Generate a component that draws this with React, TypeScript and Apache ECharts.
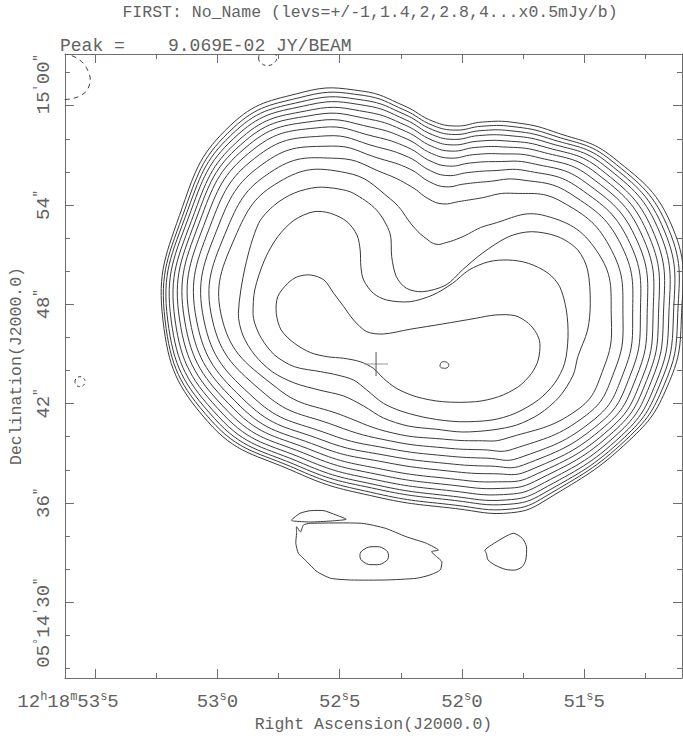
import React, { useEffect, useRef } from "react";
import * as echarts from "echarts";

// Axis extents: RA in seconds of time after 12h18m, Dec in arcsec after +05d14'
const RA_MIN = 51.1;
const RA_MAX = 53.6233;
const DEC_MIN = 25.42;
const DEC_MAX = 63.124;

const RA_MAJOR_TICKS = [53.5, 53.0, 52.5, 52.0, 51.5];
const RA_MINOR_TICKS = [53.25, 52.75, 52.25, 51.75, 51.25];
const DEC_MAJOR_TICKS = [30, 36, 42, 48, 54, 60];
const DEC_MINOR_TICKS = [26, 28, 32, 34, 38, 40, 44, 46, 50, 52, 56, 58, 62];

const TITLE_TEXT = "FIRST: No_Name (levs=+/-1,1.4,2,2.8,4...x0.5mJy/b)";
const PEAK_LABEL = "Peak =";
const PEAK_VALUE = "9.069E-02 JY/BEAM";
const X_AXIS_NAME = "Right Ascension(J2000.0)";
const Y_AXIS_NAME = "Declination(J2000.0)";

const DEC_DEGREES = 5.245;
const SOURCE_POSITION = [52.351, 44.393];

// Outer contour levels (1..12) read as radii (arcsec) along rays from a centre
const RING_CENTER = [52.16, 47.052];
const RAY_ANGLES = [0, 20, 40, 55, 65, 73, 80, 87, 95, 105, 118, 135, 155, 180, 205, 230, 255, 280, 295, 305, 330, 345];
const LEVEL_01 = [15.79, 16.25, 15.23, 13.9, 13.17, 12.51, 11.9, 12.02, 12.99, 14.32, 15.59, 16.62, 16.19, 15.87, 14.5, 12.02, 11.06, 11.57, 12.85, 13.23, 14.56, 15.47];
const LEVEL_02 = [15.56, 15.99, 15.01, 13.66, 12.9, 12.24, 11.65, 11.77, 12.73, 14.05, 15.31, 16.39, 16.0, 15.74, 14.29, 11.82, 10.86, 11.36, 12.61, 13.03, 14.39, 15.25];
const LEVEL_03 = [15.3, 15.71, 14.77, 13.4, 12.62, 11.96, 11.38, 11.51, 12.46, 13.74, 15.03, 16.16, 15.82, 15.58, 14.05, 11.6, 10.59, 11.07, 12.29, 12.81, 14.21, 15.0];
const LEVEL_04 = [15.02, 15.41, 14.5, 13.12, 12.3, 11.65, 11.08, 11.21, 12.15, 13.41, 14.73, 15.9, 15.62, 15.37, 13.78, 11.34, 10.35, 10.82, 12.0, 12.55, 14.0, 14.74];
const LEVEL_05 = [14.69, 15.06, 14.17, 12.8, 11.94, 11.29, 10.74, 10.88, 11.8, 13.0, 14.39, 15.61, 15.38, 15.13, 13.46, 11.04, 10.05, 10.49, 11.64, 12.25, 13.75, 14.44];
const LEVEL_06 = [14.39, 14.72, 13.82, 12.44, 11.54, 10.9, 10.36, 10.51, 11.42, 12.56, 14.04, 15.32, 15.15, 14.85, 13.11, 10.7, 9.71, 10.13, 11.23, 11.91, 13.47, 14.15];
const LEVEL_07 = [14.06, 14.35, 13.41, 12.03, 11.08, 10.44, 9.93, 10.08, 10.97, 12.05, 13.64, 14.99, 14.89, 14.55, 12.73, 10.34, 9.35, 9.74, 10.79, 11.55, 13.18, 13.84];
const LEVEL_08 = [13.7, 13.94, 12.95, 11.56, 10.56, 9.92, 9.44, 9.6, 10.46, 11.48, 13.18, 14.6, 14.57, 14.22, 12.31, 9.94, 8.9, 9.27, 10.25, 11.15, 12.85, 13.49];
const LEVEL_09 = [13.29, 13.48, 12.43, 11.01, 9.95, 9.31, 8.86, 9.03, 9.87, 10.83, 12.6, 14.12, 14.19, 13.82, 11.84, 9.49, 8.48, 8.81, 9.74, 10.7, 12.48, 13.1];
const LEVEL_10 = [12.82, 12.95, 11.83, 10.35, 9.22, 8.59, 8.17, 8.35, 9.16, 10.09, 11.9, 13.53, 13.72, 13.37, 11.3, 8.98, 8.04, 8.34, 9.21, 10.19, 12.06, 12.66];
const LEVEL_11 = [12.23, 12.28, 11.1, 9.35, 8.11, 7.48, 7.12, 7.31, 8.09, 9.18, 11.06, 12.83, 13.16, 12.85, 10.61, 8.33, 7.57, 7.85, 8.65, 9.54, 11.52, 12.1];
const LEVEL_12 = [11.52, 11.48, 9.79, 7.01, 5.5, 4.89, 4.65, 4.89, 5.56, 7.55, 10.09, 12.02, 12.51, 12.24, 9.79, 7.55, 7.07, 7.31, 8.05, 8.76, 10.88, 11.42];

// Inner contour levels as [RA s, Dec arcsec]
const LEVEL_13 = [
  [52.914, 47.456], [52.886, 50.272], [52.831, 52.895], [52.766, 54.0], [52.685, 54.725], [52.591, 55.07],
  [52.503, 54.967], [52.443, 54.707], [52.349, 53.698], [52.294, 52.29], [52.287, 50.876], [52.268, 49.668],
  [52.227, 48.967], [52.16, 48.762], [52.065, 49.166], [51.998, 50.073], [51.917, 51.082], [51.809, 52.085],
  [51.715, 52.387], [51.607, 52.085], [51.526, 51.281], [51.486, 50.073], [51.475, 48.061], [51.486, 46.447],
  [51.526, 44.834], [51.545, 43.728], [51.602, 42.399], [51.683, 41.372], [51.776, 40.707], [51.877, 40.405],
  [51.998, 40.284], [52.103, 40.447], [52.22, 40.647], [52.321, 41.13], [52.402, 41.855], [52.483, 42.459],
  [52.584, 42.822], [52.685, 43.245], [52.774, 43.91], [52.847, 44.937], [52.896, 46.145],
];
const LEVEL_14 = [
  [52.854, 47.456], [52.847, 48.864], [52.807, 50.677], [52.753, 52.085], [52.685, 53.094], [52.605, 53.596],
  [52.537, 53.499], [52.47, 52.991], [52.429, 52.188], [52.416, 51.281], [52.413, 50.272], [52.402, 49.469],
  [52.362, 48.665], [52.308, 48.26], [52.213, 48.157], [52.119, 48.562], [52.038, 49.269], [51.971, 50.073],
  [51.89, 50.574], [51.809, 50.677], [51.728, 50.478], [51.647, 49.873], [51.6, 49.064], [51.573, 47.656],
  [51.566, 46.043], [51.58, 44.435], [51.621, 43.227], [51.688, 42.218], [51.782, 41.414], [51.877, 41.009],
  [52.011, 40.907], [52.133, 41.112], [52.241, 41.511], [52.321, 42.018], [52.389, 42.822], [52.443, 43.426],
  [52.51, 43.728], [52.577, 43.928], [52.685, 44.23], [52.766, 44.937], [52.82, 45.946], [52.847, 46.852],
];
const LEVEL_15 = [
  [52.759, 47.456], [52.753, 48.46], [52.712, 49.269], [52.672, 49.668], [52.618, 49.771], [52.564, 49.469],
  [52.524, 48.665], [52.483, 47.855], [52.443, 47.052], [52.389, 46.345], [52.321, 46.206], [52.213, 46.49],
  [52.079, 46.81], [51.944, 47.154], [51.863, 47.354], [51.782, 47.311], [51.728, 46.852], [51.695, 46.248],
  [51.681, 45.644], [51.688, 44.635], [51.715, 43.831], [51.769, 43.021], [51.85, 42.417], [51.944, 42.115],
  [52.079, 42.115], [52.187, 42.417], [52.268, 42.925], [52.321, 43.529], [52.362, 44.133], [52.416, 44.532],
  [52.483, 44.737], [52.551, 44.834], [52.618, 45.076], [52.685, 45.644], [52.739, 46.447],
];
const LEVEL_16 = [
  [52.089, 44.333], [52.083, 44.496], [52.071, 44.527], [52.058, 44.454],
  [52.054, 44.303], [52.061, 44.164], [52.075, 44.14], [52.087, 44.194],
];

// Faint southern components
const SOUTH_BLOB = [
  [52.676, 34.562], [52.66, 34.242], [52.648, 34.665], [52.62, 34.768], [52.41, 34.768], [52.313, 34.466],
  [52.228, 33.958], [52.145, 33.559], [52.096, 33.154], [52.124, 33.052], [52.103, 32.749], [52.082, 32.447],
  [52.089, 31.946], [52.131, 31.644], [52.186, 31.444], [52.313, 31.342], [52.452, 31.342], [52.536, 31.444],
  [52.592, 31.843], [52.634, 32.447], [52.655, 32.749], [52.669, 32.955], [52.679, 33.559], [52.676, 34.163],
];
const SOUTH_BLOB_CORE = [
  [52.417, 32.81], [52.4, 33.197], [52.359, 33.354], [52.317, 33.215],
  [52.3, 32.81], [52.317, 32.411], [52.359, 32.266], [52.4, 32.411],
];
const SOUTH_SLIVER = [
  [52.697, 34.967], [52.662, 35.372], [52.62, 35.529], [52.564, 35.529], [52.515, 35.269],
  [52.473, 35.009], [52.536, 34.907], [52.62, 34.846], [52.69, 34.907],
];
const SOUTH_EAST_BLOB = [
  [51.906, 33.154], [51.879, 33.456], [51.823, 33.958], [51.788, 34.163], [51.753, 33.861], [51.736, 33.354],
  [51.739, 32.55], [51.753, 32.145], [51.781, 31.946], [51.823, 31.988], [51.865, 32.248], [51.893, 32.55],
  [51.9, 32.955],
];

// Negative (dashed) contours
const NEG_CORNER = [
  [53.63, 63.2], [53.615, 63.124], [53.575, 62.882], [53.543, 62.46], [53.524, 61.916], [53.52, 61.553],
  [53.53, 61.009], [53.555, 60.647], [53.591, 60.435], [53.621, 60.375], [53.632, 60.36],
];
const NEG_TOP = [
  [52.831, 62.883], [52.821, 62.58], [52.795, 62.429], [52.768, 62.58],
  [52.758, 62.883], [52.768, 63.185], [52.795, 63.336], [52.821, 63.185],
];
const NEG_LEFT = [
  [53.582, 43.323], [53.576, 43.535], [53.562, 43.625], [53.547, 43.535],
  [53.541, 43.323], [53.547, 43.111], [53.562, 43.021], [53.576, 43.111],
];

const ARCSEC_PER_RA_SECOND = 15 * Math.cos((DEC_DEGREES * Math.PI) / 180);

function ringFromRadii(radii: number[]): number[][] {
  return RAY_ANGLES.map((deg, i) => {
    const t = (deg * Math.PI) / 180;
    return [
      RING_CENTER[0] - (radii[i] * Math.cos(t)) / ARCSEC_PER_RA_SECOND,
      RING_CENTER[1] + radii[i] * Math.sin(t),
    ];
  });
}

type Contour = { pts: number[][]; closed: boolean; smooth: number; dash?: number[] };

const RING_LEVELS = [LEVEL_01, LEVEL_02, LEVEL_03, LEVEL_04, LEVEL_05, LEVEL_06, LEVEL_07, LEVEL_08, LEVEL_09, LEVEL_10, LEVEL_11, LEVEL_12];

const CONTOURS: Contour[] = [
  ...RING_LEVELS.map((r) => ({ pts: ringFromRadii(r), closed: true, smooth: 0.45 })),
  { pts: LEVEL_13, closed: true, smooth: 0.3 },
  { pts: LEVEL_14, closed: true, smooth: 0.3 },
  { pts: LEVEL_15, closed: true, smooth: 0.3 },
  { pts: LEVEL_16, closed: true, smooth: 0.5 },
  { pts: SOUTH_BLOB, closed: true, smooth: 0.2 },
  { pts: SOUTH_BLOB_CORE, closed: true, smooth: 0.5 },
  { pts: SOUTH_SLIVER, closed: true, smooth: 0.2 },
  { pts: SOUTH_EAST_BLOB, closed: true, smooth: 0.25 },
  { pts: NEG_CORNER, closed: false, smooth: 0.4, dash: [5, 4] },
  { pts: NEG_TOP, closed: true, smooth: 0.5, dash: [4, 3] },
  { pts: NEG_LEFT, closed: true, smooth: 0.5, dash: [3, 3] },
];

const MONO = "'Liberation Mono', 'DejaVu Sans Mono', monospace";
const TEXT = "#626262";
const FRAME = "#6e6e6e";
const LINE = "#3a3a3a";

const pad2 = (v: number) => (v < 10 ? "0" + v : String(v));

function raLabel(v: number): string {
  const whole = Math.floor(v + 1e-6);
  const frac = Math.round((v - whole) * 10);
  const core = `{n|${whole}}{s|s}{n|${frac}}`;
  return Math.abs(v - RA_MAJOR_TICKS[0]) < 1e-6 ? `{n|12}{s|h}{n|18}{s|m}${core}{gap|}` : core;
}

function decLabel(v: number): string {
  if (v >= 60) return `{gapA|}{n|15}{s|'}{n|${pad2(Math.round(v - 60))}}{s|"}`;
  if (Math.abs(v - DEC_MAJOR_TICKS[0]) < 1e-6) return `{n|05}{s|°}{n|14}{s|'}{n|${pad2(v)}}{s|"}{gapB|}`;
  return `{n|${pad2(v)}}{s|"}`;
}

const frameLine = { show: true, onZero: false, lineStyle: { color: FRAME, width: 1 } };

function tickAxis(kind: "x" | "y", position: string, values: number[], length: number, extra: any = {}) {
  return {
    type: "value",
    position,
    min: kind === "x" ? RA_MIN : DEC_MIN,
    max: kind === "x" ? RA_MAX : DEC_MAX,
    inverse: kind === "x",
    splitLine: { show: false },
    axisLine: { show: false },
    axisLabel: { show: false },
    axisTick: { show: true, inside: true, length, customValues: values, lineStyle: { color: FRAME, width: 1 } },
    axisPointer: { show: false },
    silent: true,
    ...extra,
  };
}

const option: any = {
  animation: false,
  grid: { left: 58, top: 54, width: 624, height: 624, containLabel: false },
  graphic: [
    {
      type: "text",
      x: 370,
      y: 12.5,
      silent: true,
      style: {
        text: TITLE_TEXT, fill: TEXT, fontSize: 16.5, fontFamily: MONO,
        align: "center", verticalAlign: "middle", textAlign: "center", textVerticalAlign: "middle",
      },
    },
    {
      type: "text",
      x: 60,
      y: 45.5,
      silent: true,
      style: {
        text: PEAK_LABEL, fill: TEXT, fontSize: 18, fontFamily: MONO,
        align: "left", verticalAlign: "middle", textAlign: "left", textVerticalAlign: "middle",
      },
    },
    {
      type: "text",
      x: 168,
      y: 45.5,
      silent: true,
      style: {
        text: PEAK_VALUE, fill: TEXT, fontSize: 18, fontFamily: MONO,
        align: "left", verticalAlign: "middle", textAlign: "left", textVerticalAlign: "middle",
      },
    },
  ],
  xAxis: [
    tickAxis("x", "bottom", RA_MAJOR_TICKS, 9, {
      axisLine: frameLine,
      name: X_AXIS_NAME,
      nameLocation: "middle",
      nameGap: 37,
      nameTextStyle: { fontFamily: MONO, fontSize: 16.5, color: TEXT },
      axisLabel: {
        show: true,
        customValues: RA_MAJOR_TICKS,
        margin: 13,
        formatter: raLabel,
        rich: {
          n: { fontFamily: MONO, fontSize: 19, color: TEXT, lineHeight: 22 },
          s: { fontFamily: MONO, fontSize: 12, color: TEXT, lineHeight: 12, verticalAlign: "top" },
          gap: { width: 54, height: 2 },
        },
      },
    }),
    tickAxis("x", "bottom", RA_MINOR_TICKS, 5),
    tickAxis("x", "top", RA_MAJOR_TICKS, 9, { axisLine: frameLine }),
    tickAxis("x", "top", RA_MINOR_TICKS, 5),
  ],
  yAxis: [
    tickAxis("y", "left", DEC_MAJOR_TICKS, 9, {
      axisLine: frameLine,
      name: Y_AXIS_NAME,
      nameLocation: "middle",
      nameGap: 39,
      nameRotate: 90,
      nameTextStyle: { fontFamily: MONO, fontSize: 16.5, color: TEXT },
      axisLabel: {
        show: true,
        customValues: DEC_MAJOR_TICKS,
        rotate: 90,
        margin: 10,
        formatter: decLabel,
        rich: {
          n: { fontFamily: MONO, fontSize: 19, color: TEXT, lineHeight: 22 },
          s: { fontFamily: MONO, fontSize: 12, color: TEXT, lineHeight: 12, verticalAlign: "top" },
          gapA: { width: 43, height: 2 },
          gapB: { width: 41, height: 2 },
        },
      },
    }),
    tickAxis("y", "left", DEC_MINOR_TICKS, 5),
    tickAxis("y", "right", DEC_MAJOR_TICKS, 9, { axisLine: frameLine }),
    tickAxis("y", "right", DEC_MINOR_TICKS, 5),
  ],
  series: [
    {
      type: "custom",
      coordinateSystem: "cartesian2d",
      xAxisIndex: 0,
      yAxisIndex: 0,
      clip: true,
      silent: true,
      data: CONTOURS.map((c) => c.pts[Math.floor(c.pts.length / 2)]),
      renderItem: (params: any, api: any) => {
        const c = CONTOURS[params.dataIndex];
        const points = c.pts.map((p) => api.coord(p));
        return {
          type: c.closed ? "polygon" : "polyline",
          shape: { points, smooth: c.smooth },
          style: { fill: "none", stroke: LINE, lineWidth: 1, lineDash: c.dash || null },
        };
      },
    },
    {
      type: "custom",
      coordinateSystem: "cartesian2d",
      xAxisIndex: 0,
      yAxisIndex: 0,
      clip: true,
      silent: true,
      data: [SOURCE_POSITION],
      renderItem: (params: any, api: any) => {
        const [x, y] = api.coord([api.value(0), api.value(1)]);
        return {
          type: "group",
          children: [
            { type: "line", shape: { x1: x - 12, y1: y, x2: x + 12, y2: y }, style: { stroke: "#9a9a9a", lineWidth: 1 } },
            { type: "line", shape: { x1: x, y1: y - 12, x2: x, y2: y + 12 }, style: { stroke: "#555", lineWidth: 1 } },
          ],
        };
      },
    },
  ],
};

export default function App() {
  const ref = useRef<HTMLDivElement>(null);
  useEffect(() => {
    if (!ref.current) return;
    const chart = echarts.init(ref.current, null, { renderer: "svg" });
    chart.setOption(option);
    return () => chart.dispose();
  }, []);
  return (
    <div
      ref={ref}
      style={{ position: "fixed", left: 0, top: 0, width: 683, height: 746, background: "#fff" }}
    />
  );
}
